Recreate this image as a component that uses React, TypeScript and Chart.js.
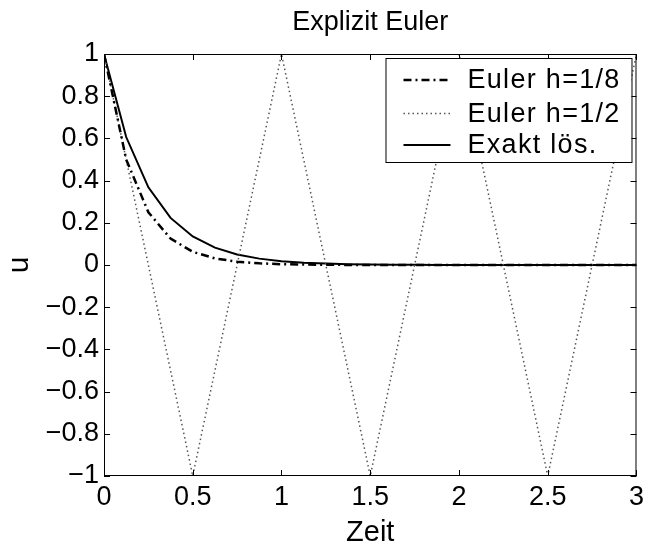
import React, { useEffect, useRef } from "react";
import { Chart, registerables } from "chart.js";

Chart.register(...registerables);

const FONT = '"Liberation Sans", Arial, Helvetica, sans-serif';

// Time grid for step size h = 1/8
const fineT = [
  0, 0.125, 0.25, 0.375, 0.5, 0.625, 0.75, 0.875, 1, 1.125, 1.25, 1.375, 1.5,
  1.625, 1.75, 1.875, 2, 2.125, 2.25, 2.375, 2.5, 2.625, 2.75, 2.875, 3,
];
// Explicit Euler, h = 1/8
const euler8U = [
  1, 0.5, 0.25, 0.125, 0.0625, 0.03125, 0.0156, 0.0078, 0.0039, 0.002, 0.001,
  0.0005, 0.00024, 0.00012, 0.00006, 0.00003, 0.000015, 0.0000076, 0.0000038,
  0.0000019, 0.000001, 0, 0, 0, 0,
];
// Exact solution sampled on the same grid
const exactU = [
  1, 0.6065, 0.3679, 0.2231, 0.1353, 0.0821, 0.0498, 0.0302, 0.0183, 0.0111,
  0.0067, 0.0041, 0.0025, 0.0015, 0.0009, 0.00055, 0.00034, 0.0002, 0.00012,
  0.000075, 0.000045, 0.000028, 0.000017, 0.00001, 0.000006,
];
// Explicit Euler, h = 1/2
const coarseT = [0, 0.5, 1, 1.5, 2, 2.5, 3];
const euler2U = [1, -1, 1, -1, 1, -1, 1];

const xTickValues = [0, 0.5, 1, 1.5, 2, 2.5, 3];
const yTickValues = [-1, -0.8, -0.6, -0.4, -0.2, 0, 0.2, 0.4, 0.6, 0.8, 1];
const seriesLabels = ["Euler h=1/8", "Euler h=1/2", "Exakt lös."];

const fmt = (v: number) => {
  const s = String(Number(v.toFixed(2)));
  return s.replace("-", "\u2212");
};

const toPoints = (xs: number[], ys: number[]) => xs.map((x, i) => ({ x, y: ys[i] }));

// Box around the plot area with inward tick marks on all four sides
const framePlugin = {
  id: "frame",
  afterDatasetsDraw(chart: any) {
    const { ctx, chartArea: a, scales } = chart;
    const len = 6;
    ctx.save();
    ctx.strokeStyle = "#000";
    ctx.lineWidth = 1;
    ctx.setLineDash([]);
    ctx.strokeRect(a.left + 0.5, a.top + 0.5, a.right - a.left - 1, a.bottom - a.top - 1);
    ctx.beginPath();
    for (const v of xTickValues) {
      const px = Math.round(scales.x.getPixelForValue(v)) + 0.5;
      ctx.moveTo(px, a.bottom);
      ctx.lineTo(px, a.bottom - len);
      ctx.moveTo(px, a.top);
      ctx.lineTo(px, a.top + len);
    }
    for (const v of yTickValues) {
      const py = Math.round(scales.y.getPixelForValue(v)) + 0.5;
      ctx.moveTo(a.left, py);
      ctx.lineTo(a.left + len, py);
      ctx.moveTo(a.right, py);
      ctx.lineTo(a.right - len, py);
    }
    ctx.stroke();
    ctx.restore();
  },
};

// Legend drawn inside the upper right corner of the plot area
const insideLegendPlugin = {
  id: "insideLegend",
  afterDraw(chart: any) {
    const { ctx, chartArea: a } = chart;
    const w = 246;
    const h = 104;
    const x0 = a.right - 5 - w;
    const y0 = a.top + 4;
    ctx.save();
    ctx.fillStyle = "#fff";
    ctx.fillRect(x0, y0, w, h);
    ctx.strokeStyle = "#000";
    ctx.lineWidth = 1;
    ctx.setLineDash([]);
    ctx.strokeRect(x0 + 0.5, y0 + 0.5, w, h);
    const rows = [22, 55.5, 87];
    chart.data.datasets.forEach((ds: any, i: number) => {
      const y = y0 + rows[i];
      ctx.beginPath();
      ctx.strokeStyle = ds.borderColor;
      ctx.lineWidth = ds.borderWidth;
      ctx.setLineDash(ds.borderDash || []);
      ctx.moveTo(x0 + 18, y);
      ctx.lineTo(x0 + 65, y);
      ctx.stroke();
      ctx.setLineDash([]);
      ctx.fillStyle = "#000";
      ctx.font = `27px ${FONT}`;
      (ctx as any).letterSpacing = "1.3px";
      ctx.textBaseline = "middle";
      ctx.textAlign = "left";
      ctx.fillText(ds.label, x0 + 82, y + 1);
    });
    ctx.restore();
  },
};

export default function App() {
  const ref = useRef<HTMLCanvasElement>(null);

  useEffect(() => {
    if (!ref.current) return;
    const chart = new Chart(ref.current, {
      type: "line",
      data: {
        datasets: [
          {
            label: seriesLabels[0],
            data: toPoints(fineT, euler8U),
            borderColor: "#000",
            borderWidth: 2.5,
            borderDash: [8, 4, 2, 4],
            pointRadius: 0,
            tension: 0,
          },
          {
            label: seriesLabels[1],
            data: toPoints(coarseT, euler2U),
            borderColor: "#555",
            borderWidth: 1.5,
            borderDash: [1.5, 3],
            pointRadius: 0,
            tension: 0,
          },
          {
            label: seriesLabels[2],
            data: toPoints(fineT, exactU),
            borderColor: "#000",
            borderWidth: 2,
            pointRadius: 0,
            tension: 0,
          },
        ],
      },
      options: {
        animation: false,
        responsive: false,
        devicePixelRatio: 1,
        parsing: false as any,
        layout: { padding: { left: 0, right: 11, top: 0, bottom: 0 } },
        plugins: {
          legend: { display: false },
          tooltip: { enabled: false },
          title: {
            display: true,
            fullSize: false,
            text: "Explizit Euler",
            color: "#000",
            font: { family: FONT, size: 27, weight: "normal" as any },
            padding: { top: 6, bottom: 15.6 },
          },
        },
        scales: {
          x: {
            type: "linear",
            min: 0,
            max: 3,
            afterBuildTicks: (s: any) => {
              s.ticks = xTickValues.map((value) => ({ value }));
            },
            afterFit: (s: any) => {
              s.height = 71;
            },
            grid: { display: false, drawTicks: false },
            border: { display: false },
            ticks: {
              color: "#000",
              font: { family: FONT, size: 27, lineHeight: 1 },
              padding: 8,
              maxRotation: 0,
              autoSkip: false,
              callback: (v: any) => fmt(Number(v)),
            },
            title: {
              display: true,
              text: "Zeit",
              color: "#000",
              font: { family: FONT, size: 29, lineHeight: 1 },
              padding: { top: 0, bottom: 0 },
            },
          },
          y: {
            type: "linear",
            min: -1,
            max: 1,
            afterBuildTicks: (s: any) => {
              s.ticks = yTickValues.map((value) => ({ value }));
            },
            afterFit: (s: any) => {
              s.width = 104;
            },
            grid: { display: false, drawTicks: false },
            border: { display: false },
            ticks: {
              color: "#000",
              font: { family: FONT, size: 27, lineHeight: 1 },
              padding: 5,
              autoSkip: false,
              callback: (v: any) => fmt(Number(v)),
            },
            title: {
              display: true,
              text: "u",
              color: "#000",
              font: { family: FONT, size: 30, lineHeight: 1 },
              padding: { top: 5, bottom: 0 },
            },
          },
        },
      },
      plugins: [framePlugin, insideLegendPlugin],
    });
    return () => chart.destroy();
  }, []);

  return (
    <div
      style={{
        position: "fixed",
        left: 0,
        top: 0,
        width: 652,
        height: 547,
        background: "#fff",
      }}
    >
      <canvas ref={ref} width={652} height={547} />
    </div>
  );
}
